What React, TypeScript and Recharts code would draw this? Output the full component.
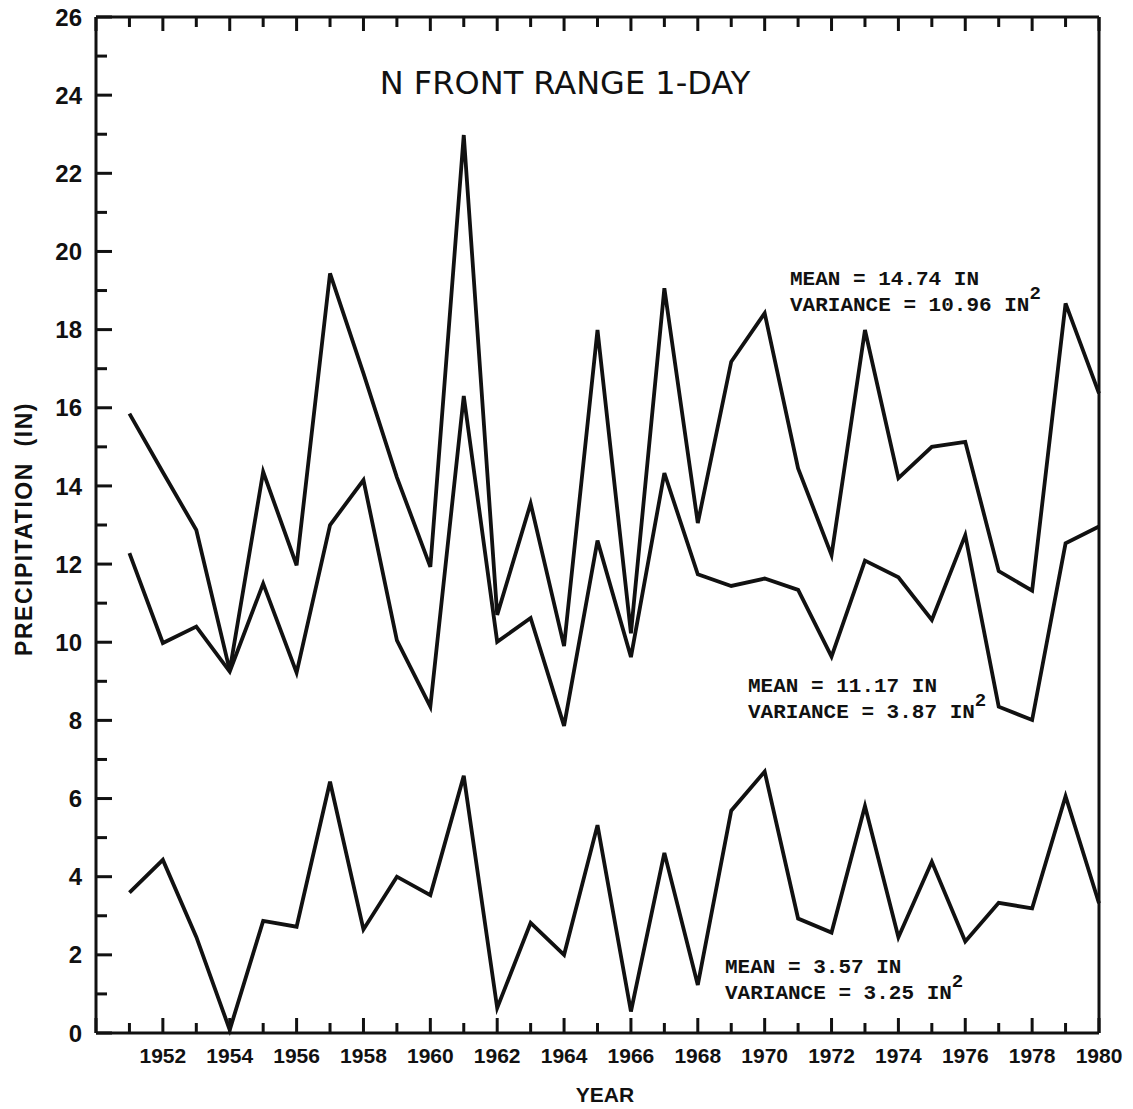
import React from 'react';
import { LineChart, Line, XAxis, YAxis, Customized } from 'recharts';

// 1-day precipitation maxima, N Front Range
const years = [
  1951, 1952, 1953, 1954, 1955, 1956, 1957, 1958, 1959, 1960,
  1961, 1962, 1963, 1964, 1965, 1966, 1967, 1968, 1969, 1970,
  1971, 1972, 1973, 1974, 1975, 1976, 1977, 1978, 1979, 1980,
];
const upperSeries = [
  15.85, 14.35, 12.87, 9.28, 14.36, 11.97, 19.44, 16.88, 14.22, 11.93,
  22.98, 10.7, 13.55, 9.9, 17.99, 10.23, 19.06, 13.05, 17.18, 18.42,
  14.45, 12.23, 17.99, 14.2, 15.0, 15.13, 11.82, 11.32, 18.67, 16.37,
];
const middleSeries = [
  12.28, 9.98, 10.4, 9.25, 11.5, 9.22, 13.0, 14.15, 10.05, 8.35,
  16.3, 10.01, 10.62, 7.86, 12.6, 9.62, 14.33, 11.74, 11.44, 11.63,
  11.34, 9.63, 12.09, 11.66, 10.57, 12.74, 8.35, 8.01, 12.53, 12.96,
];
const lowerSeries = [
  3.59, 4.43, 2.46, 0.08, 2.87, 2.72, 6.43, 2.65, 4.0, 3.53,
  6.58, 0.64, 2.82, 2.0, 5.32, 0.55, 4.61, 1.23, 5.69, 6.69,
  2.93, 2.57, 5.81, 2.45, 4.38, 2.34, 3.33, 3.19, 6.06, 3.32,
];
const xTicks = Array.from({ length: 31 }, (_, i) => 1950 + i);
const yTicks = Array.from({ length: 27 }, (_, i) => i);

const stats = [
  { mean: '14.74', variance: '10.96', x: 790, y: 285 },
  { mean: '11.17', variance: '3.87', x: 748, y: 692 },
  { mean: '3.57', variance: '3.25', x: 725, y: 973 },
];

const data = years.map((year, i) => ({
  year,
  upper: upperSeries[i],
  middle: middleSeries[i],
  lower: lowerSeries[i],
}));

const INK = '#111';
const tickFont = { fontFamily: 'Liberation Sans, Arial, sans-serif', fontWeight: 700, fill: INK };

const BottomTick = (props: any) => {
  const { x, y, payload } = props;
  const v = payload.value as number;
  const major = v % 2 === 0;
  return (
    <g>
      <line x1={x} y1={y} x2={x} y2={y - (major ? 15 : 10)} stroke={INK} strokeWidth={3} />
      {major && v > 1950 && (
        <text x={x} y={y + 30} textAnchor="middle" fontSize={21} {...tickFont}>
          {v}
        </text>
      )}
    </g>
  );
};

const TopTick = (props: any) => {
  const { x, y, payload } = props;
  const major = (payload.value as number) % 2 === 0;
  return <line x1={x} y1={y} x2={x} y2={y + (major ? 14 : 10)} stroke={INK} strokeWidth={3} />;
};

const LeftTick = (props: any) => {
  const { x, y, payload } = props;
  const v = payload.value as number;
  const major = v % 2 === 0;
  return (
    <g>
      <line x1={x} y1={y} x2={x + (major ? 16 : 11)} y2={y} stroke={INK} strokeWidth={3} />
      {major && (
        <text x={x - 14} y={y} dy="0.36em" textAnchor="end" fontSize={24} {...tickFont}>
          {v}
        </text>
      )}
    </g>
  );
};

const RightTick = (props: any) => {
  const { x, y, payload } = props;
  const major = (payload.value as number) % 2 === 0;
  return <line x1={x} y1={y} x2={x - (major ? 15 : 11)} y2={y} stroke={INK} strokeWidth={3} />;
};

const Annotations = () => {
  const mono = { fontFamily: 'Liberation Mono, Courier New, monospace', fontWeight: 700, fontSize: 21, fill: INK };
  return (
    <g>
      <text x={565} y={94} textAnchor="middle" fontFamily="DejaVu Sans, sans-serif" fontSize={32} fill={INK}>
        N FRONT RANGE 1-DAY
      </text>
      {stats.map((s) => (
        <g key={s.mean}>
          <text x={s.x} y={s.y} {...mono}>{`MEAN = ${s.mean} IN`}</text>
          <text x={s.x} y={s.y + 26} {...mono}>
            {`VARIANCE = ${s.variance} IN`}
            <tspan dy={-12} fontSize={19}>2</tspan>
          </text>
        </g>
      ))}
      <text x={605} y={1102} textAnchor="middle" fontSize={21} {...tickFont}>
        YEAR
      </text>
      <text
        x={0}
        y={0}
        transform="translate(32, 529) rotate(-90)"
        textAnchor="middle"
        fontSize={23}
        letterSpacing={1.5}
        style={{ whiteSpace: 'pre' }}
        {...tickFont}
      >
        PRECIPITATION  (IN)
      </text>
    </g>
  );
};

export default function App() {
  return (
    <div style={{ position: 'absolute', left: 0, top: 0, width: 1133, height: 1109, background: '#fff' }}>
      <LineChart
        width={1133}
        height={1109}
        data={data}
        margin={{ top: 7, right: 24, bottom: 16, left: 36 }}
      >
        <XAxis
          dataKey="year"
          type="number"
          domain={[1950, 1980]}
          ticks={xTicks}
          interval={0}
          height={60}
          axisLine={{ stroke: INK, strokeWidth: 3 }}
          tickLine={false}
          tickSize={0}
          tickMargin={0}
          tick={BottomTick}
        />
        <XAxis
          xAxisId="top"
          orientation="top"
          dataKey="year"
          type="number"
          domain={[1950, 1980]}
          ticks={xTicks}
          interval={0}
          height={10}
          axisLine={{ stroke: INK, strokeWidth: 3 }}
          tickLine={false}
          tickSize={0}
          tickMargin={0}
          tick={TopTick}
        />
        <YAxis
          type="number"
          domain={[0, 26]}
          ticks={yTicks}
          interval={0}
          width={60}
          axisLine={{ stroke: INK, strokeWidth: 3 }}
          tickLine={false}
          tickSize={0}
          tickMargin={0}
          tick={LeftTick}
        />
        <YAxis
          yAxisId="right"
          orientation="right"
          type="number"
          domain={[0, 26]}
          ticks={yTicks}
          interval={0}
          width={10}
          axisLine={{ stroke: INK, strokeWidth: 3 }}
          tickLine={false}
          tickSize={0}
          tickMargin={0}
          tick={RightTick}
        />
        <Line type="linear" dataKey="upper" stroke={INK} strokeWidth={3.8} dot={false} isAnimationActive={false} strokeLinejoin="miter" />
        <Line type="linear" dataKey="middle" stroke={INK} strokeWidth={3.8} dot={false} isAnimationActive={false} strokeLinejoin="miter" />
        <Line type="linear" dataKey="lower" stroke={INK} strokeWidth={3.8} dot={false} isAnimationActive={false} strokeLinejoin="miter" />
        <Customized component={Annotations} />
      </LineChart>
    </div>
  );
}
